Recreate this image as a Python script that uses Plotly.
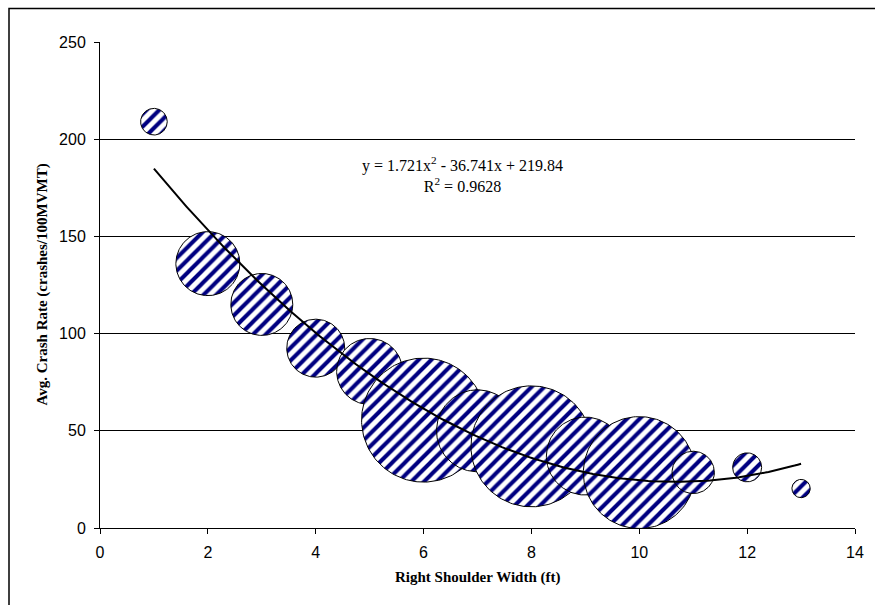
import numpy as np
import plotly.graph_objects as go

# Data
shoulder_width_ft = [1, 2, 3, 4, 5, 6, 7, 8, 9, 10, 11, 12, 13]
crash_rate = [209, 136, 115, 92.5, 80.5, 55.5, 50, 42, 37, 28.5, 28.6, 31.2, 20.3]
bubble_size = [7.1, 41.0, 38.4, 33.6, 43.6, 153.8, 67.2, 146.4, 60.8, 125.4, 17.9, 8.4, 3.35]
trend_coef = [1.721, -36.741, 219.84]   # quadratic trendline y = a x^2 + b x + c
r_squared = 0.9628
x_ticks = [0, 2, 4, 6, 8, 10, 12, 14]
y_ticks = [0, 50, 100, 150, 200, 250]

# Canvas / plot-area geometry
W, H = 875, 605
M = dict(l=100, r=20, t=42, b=77)
X_RANGE = (0, 14)
Y_RANGE = (0, 250)
plot_w = W - M["l"] - M["r"]
plot_h = H - M["t"] - M["b"]
px_per_x = plot_w / (X_RANGE[1] - X_RANGE[0])
px_per_y = plot_h / (Y_RANGE[1] - Y_RANGE[0])
MAX_DIAM_PX = 124

NAVY = "#000080"
SANS = "Liberation Sans, Arial, sans-serif"
SERIF = "Liberation Serif, Times New Roman, serif"

fig = go.Figure()

# Bubbles: hatched circles, area proportional to bubble size
theta = np.linspace(0, 2 * np.pi, 181)
smax = max(bubble_size)
for xv, yv, s in zip(shoulder_width_ft, crash_rate, bubble_size):
    r = MAX_DIAM_PX / 2 * np.sqrt(s / smax)
    fig.add_trace(go.Scatter(
        x=xv + r * np.cos(theta) / px_per_x,
        y=yv + r * np.sin(theta) / px_per_y,
        mode="lines",
        fill="toself",
        fillcolor="white",
        fillpattern=dict(shape="/", fgcolor=NAVY, bgcolor="white",
                         size=9, solidity=0.45, fillmode="replace"),
        line=dict(color="black", width=1),
        hoverinfo="skip",
        showlegend=False,
    ))

# Polynomial trendline
xs = np.linspace(min(shoulder_width_ft), max(shoulder_width_ft), 200)
fig.add_trace(go.Scatter(
    x=xs, y=np.polyval(trend_coef, xs),
    mode="lines", line=dict(color="black", width=2),
    hoverinfo="skip", showlegend=False,
))

a, b, c = trend_coef
eq_text = (f"y = {a:g}x<sup>2</sup> - {abs(b):g}x + {c:g}<br>"
           f"R<sup>2</sup> = {r_squared:g}")

fig.update_layout(
    width=W, height=H,
    margin=M,
    paper_bgcolor="white",
    plot_bgcolor="white",
    font=dict(family=SANS, size=16, color="black"),
    xaxis=dict(
        range=list(X_RANGE), tickvals=x_ticks, ticks="outside", ticklen=5,
        tickcolor="black", showline=True, linecolor="black", linewidth=1,
        showgrid=False, zeroline=False, ticklabelstandoff=5,
        tickfont=dict(family=SANS, size=16),
    ),
    yaxis=dict(
        range=list(Y_RANGE), tickvals=y_ticks, ticks="outside", ticklen=5,
        tickcolor="black", showline=True, linecolor="black", linewidth=1,
        showgrid=True, gridcolor="black", gridwidth=1, zeroline=False,
        ticklabelstandoff=5, tickfont=dict(family=SANS, size=16),
    ),
    annotations=[
        dict(text="<b>Right Shoulder Width (ft)</b>", xref="paper", yref="paper",
             x=0.5, y=0, yshift=-60, showarrow=False,
             font=dict(family=SERIF, size=15)),
        dict(text="<b>Avg. Crash Rate (crashes/100MVMT)</b>", xref="paper", yref="paper",
             x=0, y=0.5, xshift=-69, textangle=-90, showarrow=False,
             font=dict(family=SERIF, size=15)),
        dict(text=eq_text, xref="x", yref="y", x=6.72, y=182,
             showarrow=False, align="center",
             font=dict(family=SERIF, size=16)),
    ],
    shapes=[
        dict(type="rect", xref="paper", yref="paper",
             x0=(9 - M["l"]) / plot_w, x1=(W + 10 - M["l"]) / plot_w,
             y0=-(H + 10 - M["t"] - plot_h) / plot_h, y1=(plot_h + M["t"] - 8.5) / plot_h,
             line=dict(color="black", width=1.5), fillcolor="rgba(0,0,0,0)", layer="below"),
    ],
)

fig.write_html("out.html")
